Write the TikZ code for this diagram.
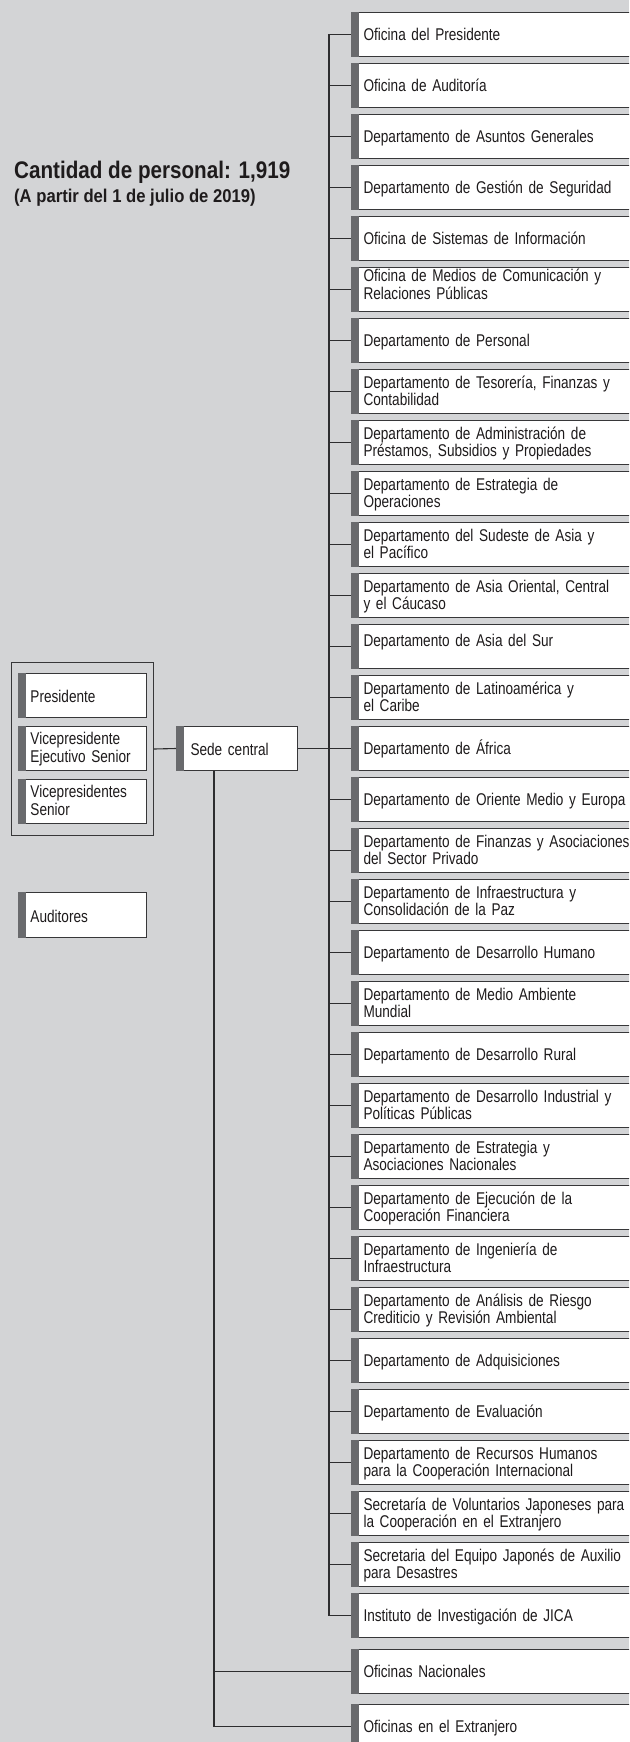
\documentclass[tikz,border=0pt]{standalone}
\usepackage{fontspec}
\setmainfont{Liberation Sans}[FakeStretch=0.80]
\newfontfamily\titlefont{Liberation Sans}[FakeStretch=0.86]
\newfontfamily\subfont{Liberation Sans}[FakeStretch=0.9]
\definecolor{bg}{RGB}{211,212,214}
\definecolor{barc}{RGB}{105,106,109}
\definecolor{boxline}{RGB}{55,55,57}
\definecolor{connline}{RGB}{45,45,47}
\definecolor{ink}{RGB}{30,27,28}
\tikzset{
  base/.style={draw=boxline, fill=white, line width=1pt, inner xsep=0pt, inner ysep=0pt,
    align=left, text=ink, font=\fontsize{17}{17.8}\selectfont, anchor=west, minimum height=44pt},
  dept/.style={base, minimum width=300pt, text width=276pt},
  leftbox/.style={base, minimum width=128pt, text width=104pt},
  one/.style={text height=12pt, text depth=0pt},
  two/.style={text height=12pt, text depth=19pt},
  twoup/.style={text height=12pt, text depth=28pt},
  oneup/.style={text height=12pt, text depth=12pt},
  conn/.style={draw=connline, line width=1.1pt},
  frame/.style={draw=boxline, line width=1pt, inner sep=0pt, anchor=north west},
  heading/.style={anchor=base west, inner sep=0pt, text=ink},
}
\begin{document}
\begin{tikzpicture}[x=1pt,y=-1pt]
\path[use as bounding box] (0,0) rectangle (629,1742);
\clip (0,0) rectangle (629,1742);
\fill[bg] (0,0) rectangle (629,1742);

% headings
\node[heading, font=\titlefont\bfseries\fontsize{24}{28}\selectfont] (title) at (14,178) {Cantidad de personal: 1,919};
\node[heading, font=\subfont\bfseries\fontsize{18.5}{22}\selectfont] (sub) at (14,202) {(A partir del 1 de julio de 2019)};

% executive group
\node[frame, minimum width=142pt, minimum height=173pt] (exec) at (11,662) {};
\node[leftbox, text height=14pt, text depth=0pt] (pres) at (18,695.5) {Presidente};
\node[leftbox, text height=12pt, text depth=20pt] (vpe) at (18,748.5) {Vicepresidente\\Ejecutivo Senior};
\node[leftbox, text height=12pt, text depth=20pt] (vps) at (18,801.5) {Vicepresidentes\\Senior};
\node[leftbox, text height=14pt, text depth=0pt, minimum height=45pt] (aud) at (18,915) {Auditores};
\node[base, text height=14pt, text depth=0pt, minimum width=121pt, text width=93pt] (sede) at (176,748.5) {Sede central};

% departments
\node[dept, one] (d1) at (351,34.5) {Oficina del Presidente};
\node[dept, one] (d2) at (351,85.5) {Oficina de Auditoría};
\node[dept, one] (d3) at (351,136.5) {Departamento de Asuntos Generales};
\node[dept, one] (d4) at (351,187.5) {Departamento de Gestión de Seguridad};
\node[dept, one] (d5) at (351,238.5) {Oficina de Sistemas de Información};
\node[dept, twoup] (d6) at (351,289.5) {Oficina de Medios de Comunicación y\\Relaciones Públicas};
\node[dept, one] (d7) at (351,340.5) {Departamento de Personal};
\node[dept, two] (d8) at (351,391.5) {Departamento de Tesorería, Finanzas y\\Contabilidad};
\node[dept, two] (d9) at (351,442.5) {Departamento de Administración de\\Préstamos, Subsidios y Propiedades};
\node[dept, two] (d10) at (351,493.5) {Departamento de Estrategia de\\Operaciones};
\node[dept, two] (d11) at (351,544.5) {Departamento del Sudeste de Asia y\\el Pacífico};
\node[dept, two] (d12) at (351,595.5) {Departamento de Asia Oriental, Central\\y el Cáucaso};
\node[dept, oneup] (d13) at (351,646.5) {Departamento de Asia del Sur};
\node[dept, two] (d14) at (351,697.5) {Departamento de Latinoamérica y\\el Caribe};
\node[dept, one] (d15) at (351,748.5) {Departamento de África};
\node[dept, one] (d16) at (351,799.5) {Departamento de Oriente Medio y Europa};
\node[dept, two] (d17) at (351,850.5) {Departamento de Finanzas y Asociaciones\\del Sector Privado};
\node[dept, two] (d18) at (351,901.5) {Departamento de Infraestructura y\\Consolidación de la Paz};
\node[dept, one] (d19) at (351,952.5) {Departamento de Desarrollo Humano};
\node[dept, two] (d20) at (351,1003.5) {Departamento de Medio Ambiente\\Mundial};
\node[dept, one] (d21) at (351,1054.5) {Departamento de Desarrollo Rural};
\node[dept, two] (d22) at (351,1105.5) {Departamento de Desarrollo Industrial y\\Políticas Públicas};
\node[dept, two] (d23) at (351,1156.5) {Departamento de Estrategia y\\Asociaciones Nacionales};
\node[dept, two] (d24) at (351,1207.5) {Departamento de Ejecución de la\\Cooperación Financiera};
\node[dept, two] (d25) at (351,1258.5) {Departamento de Ingeniería de\\Infraestructura};
\node[dept, two] (d26) at (351,1309.5) {Departamento de Análisis de Riesgo\\Crediticio y Revisión Ambiental};
\node[dept, one] (d27) at (351,1360.5) {Departamento de Adquisiciones};
\node[dept, one] (d28) at (351,1411.5) {Departamento de Evaluación};
\node[dept, two] (d29) at (351,1462.5) {Departamento de Recursos Humanos\\para la Cooperación Internacional};
\node[dept, two] (d30) at (351,1513.5) {Secretaría de Voluntarios Japoneses para\\la Cooperación en el Extranjero};
\node[dept, two] (d31) at (351,1564.5) {Secretaria del Equipo Japonés de Auxilio\\para Desastres};
\node[dept, one] (d32) at (351,1615.5) {Instituto de Investigación de JICA};
\node[dept, one] (nac) at (351,1671.5) {Oficinas Nacionales};
\node[dept, one] (ext) at (351,1726.5) {Oficinas en el Extranjero};

% left bars
\foreach \n in {pres,vpe,vps,aud,sede,d1,d2,d3,d4,d5,d6,d7,d8,d9,d10,d11,d12,d13,d14,d15,d16,d17,d18,d19,d20,d21,d22,d23,d24,d25,d26,d27,d28,d29,d30,d31,d32,nac,ext}{
  \fill[barc] (\n.north west) rectangle ([xshift=8pt]\n.south west);
}

% connectors
\coordinate (bus) at (329,0);
\coordinate (trunk) at (214,0);
\draw[conn] (d1.west -| bus) -- (d32.west -| bus);
\foreach \i in {1,...,32}{
  \draw[conn] (d\i.west -| bus) -- (d\i.west);
}
\draw[conn] (exec.east) -- (sede.west);
\draw[conn] (sede.east) -- (d15.west);
\draw[conn] (sede.south -| trunk) -- (ext.west -| trunk) -- (ext.west);
\draw[conn] (nac.west -| trunk) -- (nac.west);
\end{tikzpicture}
\end{document}
